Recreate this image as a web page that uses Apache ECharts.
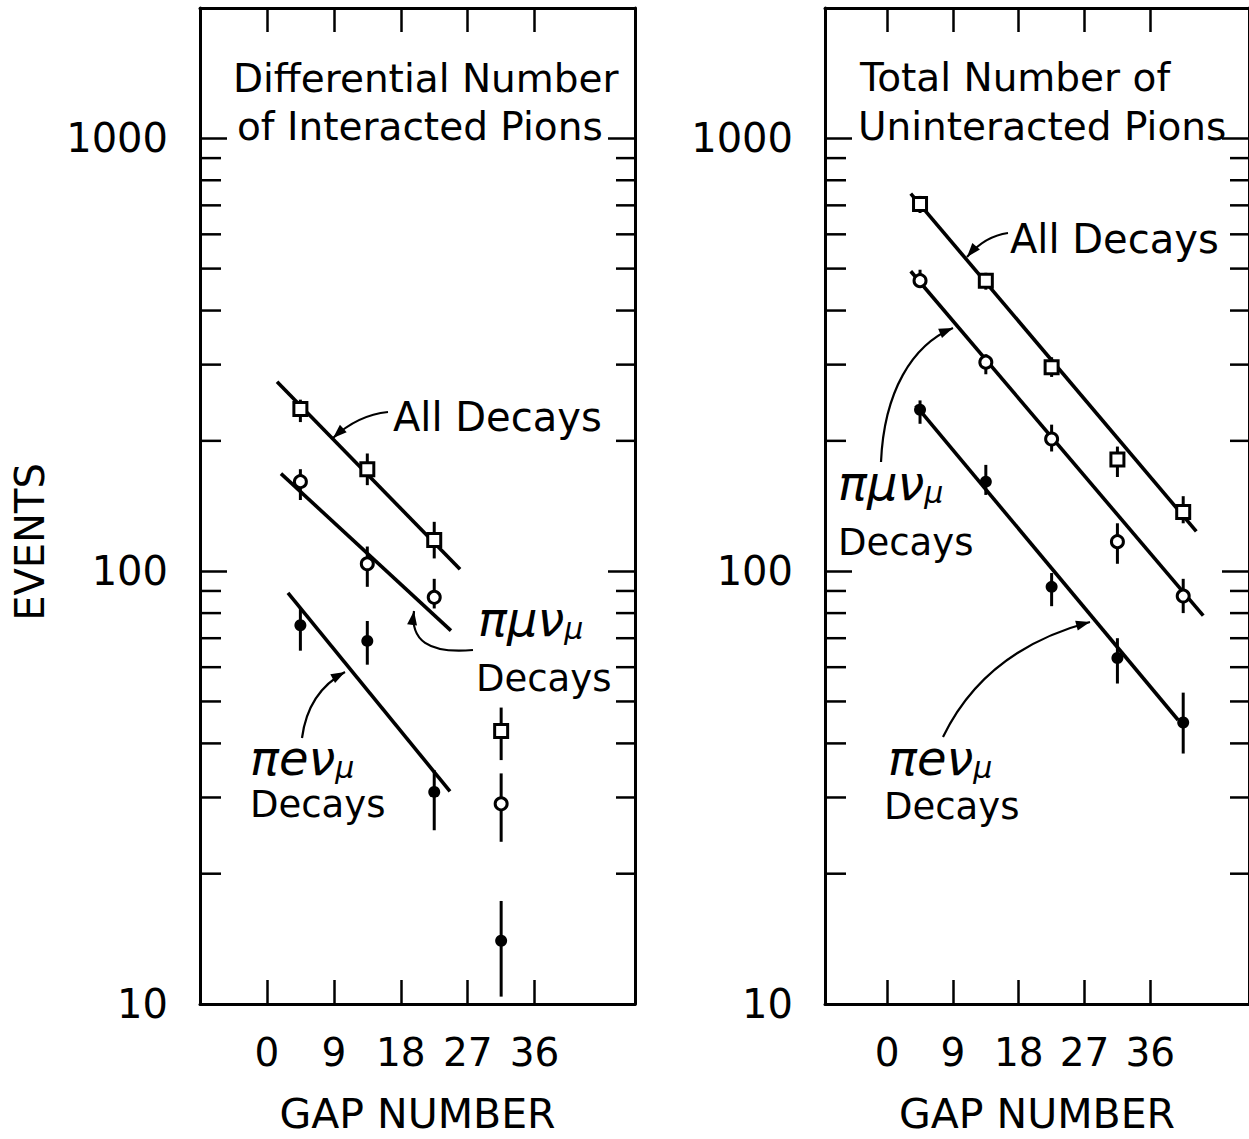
<!DOCTYPE html>
<html><head><meta charset="utf-8">
<script src="https://cdn.jsdelivr.net/npm/echarts@6/dist/echarts.min.js"></script>
<style>html,body{margin:0;padding:0;background:#fff}#c{width:1249px;height:1139px}</style>
</head><body><div id="c"></div>
<script>
// ---------- data ----------
const gapTicks = [0, 9, 18, 27, 36];
const yMinorTicks = [20, 30, 40, 50, 60, 70, 80, 90, 200, 300, 400, 500, 600, 700, 800, 900];

// Left panel: Differential number of interacted pions
const leftGaps = [4.5, 13.5, 22.5, 31.5];
const leftAll = [237, 172, 118, 42.7];
const leftAllLo = [221, 158, 107, 36.6];
const leftAllHi = [249, 187, 130, 48.4];
const leftMu = [161, 104, 87, 29];
const leftMuLo = [146, 92, 82, 23.7];
const leftMuHi = [172, 114, 96, 34.1];
const leftE = [75, 69, 30.9, 14.0];
const leftELo = [65.5, 60.8, 25.2, 10.4];
const leftEHi = [82.2, 76.7, 34.7, 17.3];
const leftFitAll = [[1.36, 274], [25.97, 101]];
const leftFitMu = [[1.89, 168], [24.75, 72.9]];
const leftFitE = [[2.83, 89.1], [24.62, 31.0]];

// Right panel: Total number of uninteracted pions
const rightGaps = [4.5, 13.5, 22.5, 31.5, 40.5];
const rightAll = [705, 469, 296, 181, 137];
const rightAllLo = [672, 447, 281, 165, 129];
const rightAllHi = [736, 489, 312, 194, 149];
const rightMu = [469, 304, 202, 117, 87.6];
const rightMuLo = [452, 285, 189, 104, 80];
const rightMuHi = [497, 317, 218, 129, 96];
const rightE = [236, 161, 92, 63, 44.7];
const rightELo = [219, 150, 83, 55, 37.9];
const rightEHi = [248, 176, 99, 70, 52.4];
const rightFitAll = [[3.23, 745], [42.29, 123.6]];
const rightFitMu = [[3.23, 493], [43.24, 78.9]];
const rightFitE = [[3.91, 241.5], [39.8, 45.3]];

// ---------- style ----------
const FONT = 'DejaVu Sans';
const BLACK = '#000';

function isDecade(v) { const l = Math.log10(v); return Math.abs(l - Math.round(l)) < 1e-6; }

function makeX(grid, range, position, showLabels, name) {
  return {
    type: 'value', gridIndex: grid, position: position, min: range[0], max: range[1],
    axisLine: { show: true, onZero: false, lineStyle: { color: BLACK, width: 3 } },
    axisTick: { show: true, inside: true, length: 24, customValues: gapTicks, lineStyle: { color: BLACK, width: 2.5 } },
    axisLabel: { show: showLabels, customValues: gapTicks, margin: 29, fontSize: 39, color: BLACK, fontFamily: FONT },
    splitLine: { show: false },
    name: name || '', nameLocation: 'middle', nameGap: 89,
    nameTextStyle: { fontSize: 41, color: BLACK, fontFamily: FONT }
  };
}
function makeY(grid, position, showLabels) {
  return {
    type: 'log', logBase: 10, gridIndex: grid, position: position, min: 10, max: 2000,
    axisLine: { show: true, onZero: false, lineStyle: { color: BLACK, width: 3 } },
    axisTick: { show: true, inside: true, length: 27, lineStyle: { color: BLACK, width: 2.5 } },
    axisLabel: { show: showLabels, margin: 32, fontSize: 40, color: BLACK, fontFamily: FONT,
      showMinLabel: true, showMaxLabel: true,
      formatter: function (v) { return isDecade(v) ? String(Math.round(v)) : ''; } },
    splitLine: { show: false }
  };
}

function errSeries(xi, yi, gaps, lo, hi) {
  return {
    type: 'custom', xAxisIndex: xi, yAxisIndex: yi, silent: true, z: 2, clip: false,
    data: gaps.map(function (g, i) { return [g, lo[i], hi[i]]; }),
    encode: { x: 0, y: [1, 2] },
    renderItem: function (params, api) {
      const a = api.coord([api.value(0), api.value(1)]);
      const b = api.coord([api.value(0), api.value(2)]);
      return { type: 'line', shape: { x1: a[0], y1: a[1], x2: b[0], y2: b[1] }, style: { stroke: BLACK, lineWidth: 3 } };
    }
  };
}
function minorTickSeries(xi, yi) {
  return {
    type: 'custom', xAxisIndex: xi, yAxisIndex: yi, silent: true, z: 1, clip: false,
    data: yMinorTicks.map(function (v) { return [gapTicks[0], v]; }),
    encode: { x: 0, y: 1 },
    renderItem: function (params, api) {
      const cs = params.coordSys;
      const y = api.coord([api.value(0), api.value(1)])[1];
      return { type: 'group', children: [
        { type: 'line', shape: { x1: cs.x, y1: y, x2: cs.x + 21, y2: y }, style: { stroke: BLACK, lineWidth: 2.5 } },
        { type: 'line', shape: { x1: cs.x + cs.width - 19, y1: y, x2: cs.x + cs.width, y2: y }, style: { stroke: BLACK, lineWidth: 2.5 } }
      ] };
    }
  };
}
function fitSeries(xi, yi, pts) {
  return { type: 'line', xAxisIndex: xi, yAxisIndex: yi, data: pts, symbol: 'none', silent: true, z: 3,
    lineStyle: { color: BLACK, width: 3.6 } };
}
function markerSeries(name, xi, yi, gaps, vals, kind) {
  const open = kind !== 'filled';
  return {
    type: 'scatter', name: name, xAxisIndex: xi, yAxisIndex: yi, z: 4,
    data: gaps.map(function (g, i) { return [g, vals[i]]; }),
    symbol: kind === 'square' ? 'rect' : 'circle',
    symbolSize: kind === 'square' ? 13 : 12,
    itemStyle: open ? { color: '#fff', borderColor: BLACK, borderWidth: 3, opacity: 1 } : { color: BLACK, opacity: 1 }
  };
}

// ---------- annotations (pixel layout) ----------
const arrows = [
  { from: [388, 412], c1: [358, 415], to: [333, 438] },
  { from: [473, 650], c1: [428, 654], c2: [410, 640], to: [414, 611] },
  { from: [302, 738], c1: [308, 692], to: [345, 672] },
  { from: [1008, 233], c1: [985, 236], to: [967, 257] },
  { from: [881, 462], c1: [884, 392], c2: [912, 345], to: [953, 328] },
  { from: [943, 737], c1: [985, 650], to: [1090, 622] }
];
function arrowGraphics(a) {
  const last = a.c2 || a.c1;
  const ang = Math.atan2(a.to[1] - last[1], a.to[0] - last[0]);
  const L = 14, W = 5;
  const bx = a.to[0] - L * Math.cos(ang), by = a.to[1] - L * Math.sin(ang);
  const px = -Math.sin(ang) * W, py = Math.cos(ang) * W;
  const shape = { x1: a.from[0], y1: a.from[1], x2: a.to[0], y2: a.to[1], cpx1: a.c1[0], cpy1: a.c1[1] };
  if (a.c2) { shape.cpx2 = a.c2[0]; shape.cpy2 = a.c2[1]; }
  return [
    { type: 'bezierCurve', shape: shape, style: { stroke: BLACK, lineWidth: 2.2, fill: null }, z: 10 },
    { type: 'polygon', shape: { points: [[a.to[0], a.to[1]], [bx + px, by + py], [bx - px, by - py]] }, style: { fill: BLACK }, z: 10 }
  ];
}
function txt(x, y, s, size, extra) {
  return { type: 'text', x: x, y: y, z: 10,
    style: Object.assign({ text: s, fill: BLACK, fontSize: size, fontFamily: FONT, align: 'left', verticalAlign: 'middle' }, extra || {}) };
}
function mathTxt(x, y, main, sub) {
  return { type: 'text', x: x, y: y, z: 10,
    style: { text: '{m|' + main + '}{s|' + sub + '}', fill: BLACK, align: 'left', verticalAlign: 'middle',
      fontFamily: FONT, fontStyle: 'italic', fontSize: 48,
      rich: {
        m: { fontSize: 48, lineHeight: 48, fontFamily: FONT, fontStyle: 'italic', fill: BLACK },
        s: { fontSize: 30, lineHeight: 18, fontFamily: FONT, fontStyle: 'italic', fill: BLACK, verticalAlign: 'bottom' }
      } } };
}

const graphics = [
  txt(233, 78, 'Differential Number', 39),
  txt(237, 126, 'of Interacted Pions', 39),
  txt(860, 77, 'Total Number of', 39),
  txt(858, 126, 'Uninteracted Pions', 39),
  txt(393, 417, 'All Decays', 40),
  mathTxt(478, 619, 'πμν', 'μ'),
  txt(476, 678, 'Decays', 37),
  mathTxt(250, 758, 'πeν', 'μ'),
  txt(250, 804, 'Decays', 37),
  txt(1010, 239, 'All Decays', 40),
  mathTxt(838, 483, 'πμν', 'μ'),
  txt(838, 542, 'Decays', 37),
  mathTxt(888, 758, 'πeν', 'μ'),
  txt(884, 806, 'Decays', 37),
  { type: 'text', x: 30, y: 542, rotation: Math.PI / 2, z: 10,
    style: { text: 'EVENTS', fill: BLACK, fontSize: 40, fontFamily: FONT, align: 'center', verticalAlign: 'middle' } }
];
arrows.forEach(function (a) { Array.prototype.push.apply(graphics, arrowGraphics(a)); });

const option = {
  animation: false,
  backgroundColor: '#fff',
  grid: [
    { left: 200, top: 8, width: 435, height: 1003 },
    { left: 825, top: 8, width: 430, height: 1003 }
  ],
  xAxis: [
    makeX(0, [-9, 49.5], 'bottom', true, 'GAP NUMBER'),
    makeX(0, [-9, 49.5], 'top', false),
    makeX(1, [-8.5, 49.5], 'bottom', true, 'GAP NUMBER'),
    makeX(1, [-8.5, 49.5], 'top', false)
  ],
  yAxis: [
    makeY(0, 'left', true),
    makeY(0, 'right', false),
    makeY(1, 'left', true),
    makeY(1, 'right', false)
  ],
  series: [
    minorTickSeries(0, 0), minorTickSeries(2, 2),
    errSeries(0, 0, leftGaps, leftAllLo, leftAllHi),
    errSeries(0, 0, leftGaps, leftMuLo, leftMuHi),
    errSeries(0, 0, leftGaps, leftELo, leftEHi),
    errSeries(2, 2, rightGaps, rightAllLo, rightAllHi),
    errSeries(2, 2, rightGaps, rightMuLo, rightMuHi),
    errSeries(2, 2, rightGaps, rightELo, rightEHi),
    fitSeries(0, 0, leftFitAll), fitSeries(0, 0, leftFitMu), fitSeries(0, 0, leftFitE),
    fitSeries(2, 2, rightFitAll), fitSeries(2, 2, rightFitMu), fitSeries(2, 2, rightFitE),
    markerSeries('All Decays (interacted)', 0, 0, leftGaps, leftAll, 'square'),
    markerSeries('πμν decays (interacted)', 0, 0, leftGaps, leftMu, 'open'),
    markerSeries('πeν decays (interacted)', 0, 0, leftGaps, leftE, 'filled'),
    markerSeries('All Decays (uninteracted)', 2, 2, rightGaps, rightAll, 'square'),
    markerSeries('πμν decays (uninteracted)', 2, 2, rightGaps, rightMu, 'open'),
    markerSeries('πeν decays (uninteracted)', 2, 2, rightGaps, rightE, 'filled')
  ],
  graphic: graphics
};
const chart = echarts.init(document.getElementById('c'), null, { renderer: 'svg', width: 1249, height: 1139 });
chart.setOption(option);
</script>
</body></html>
